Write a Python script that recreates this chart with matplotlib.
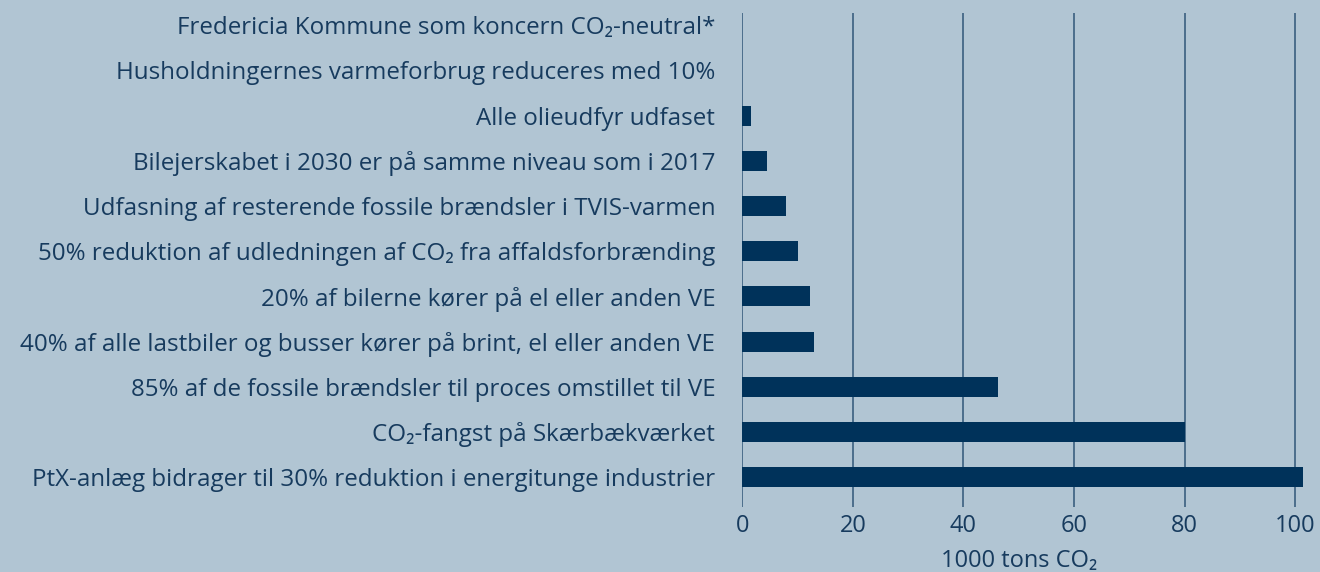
import matplotlib.pyplot as plt

plt.rcParams['font.family'] = ['Open Sans', 'DejaVu Sans']

# tiltag, nederst først
labels = [
    'PtX-anlæg bidrager til 30% reduktion i energitunge industrier',
    'CO₂-fangst på Skærbækværket',
    '85% af de fossile brændsler til proces omstillet til VE',
    '40% af alle lastbiler og busser kører på brint, el eller anden VE',
    '20% af bilerne kører på el eller anden VE',
    '50% reduktion af udledningen af CO₂ fra affaldsforbrænding',
    'Udfasning af resterende fossile brændsler i TVIS-varmen',
    'Bilejerskabet i 2030 er på samme niveau som i 2017',
    'Alle olieudfyr udfaset',
    'Husholdningernes varmeforbrug reduceres med 10%',
    'Fredericia Kommune som koncern CO₂-neutral*',
]
values = [101.4, 80.1, 46.3, 12.9, 12.2, 10.1, 7.9, 4.5, 1.5, 0, 0]
xticks = [0, 20, 40, 60, 80, 100]

bg = '#b1c5d3'
navy = '#00325a'
txt = '#173b5e'

fig = plt.figure(figsize=(13.2, 5.72), dpi=100)
fig.patch.set_facecolor(bg)
ax = fig.add_axes([0.5623, 0.1136, 0.4377, 0.8636])
ax.set_facecolor(bg)

ypos = list(range(len(labels)))
ax.barh(ypos, values, height=0.44, color=navy, zorder=3)

ax.set_xlim(0, 104.5)
ax.set_ylim(-0.66, 10.27)
ax.set_xticks(xticks)
ax.set_yticks(ypos)
ax.set_yticklabels(labels)
ax.tick_params(axis='y', length=0, pad=19.5, labelsize=17.4, labelcolor=txt)
ax.tick_params(axis='x', length=0, pad=5, labelsize=17, labelcolor=txt)
ax.grid(axis='x', color='#3b6080', linewidth=1.2, zorder=1)
for s in ax.spines.values():
    s.set_visible(False)

ax.set_xlabel('1000 tons CO₂', fontsize=17, color=txt)
ax.xaxis.set_label_coords(0.48, -0.084)

fig.savefig('out.png', dpi=100, facecolor=bg)
